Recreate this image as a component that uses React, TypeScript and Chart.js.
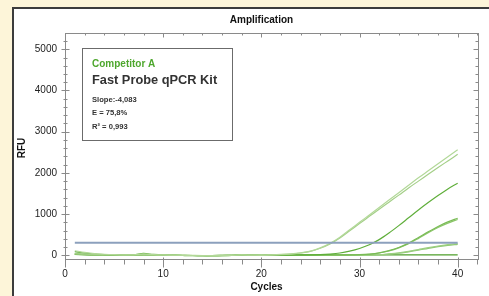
import React, { useEffect, useRef } from "react";
import { Chart, registerables } from "chart.js";

Chart.register(...registerables);

const cycles = [1, 2, 3, 4, 5, 6, 7, 8, 9, 10, 11, 12, 13, 14, 15, 16, 17, 18, 19, 20, 21, 22, 23, 24, 25, 26, 27, 28, 29, 30, 31, 32, 33, 34, 35, 36, 37, 38, 39, 40];
const yTickValues = [0, 1000, 2000, 3000, 4000, 5000];
const xTickValues = [0, 10, 20, 30, 40];
const thresholdCycles = [1, 40];
const thresholdValue = 305;

const wellA = [110, 70, 40, 25, 15, 10, 12, 35, 15, 8, 5, 0, -3, -5, -5, -3, 0, 8, 5, 3, 10, 20, 35, 60, 100, 180, 290, 440, 620, 800, 980, 1160, 1340, 1520, 1700, 1880, 2050, 2220, 2390, 2560];
const wellB = [40, 25, 15, 10, 8, 5, 8, 15, 8, 5, 0, -3, -5, -5, -8, -5, -3, 5, 3, 0, 5, 15, 30, 55, 95, 170, 275, 420, 595, 770, 945, 1120, 1290, 1460, 1635, 1800, 1965, 2130, 2290, 2450];
const wellC = [90, 55, 30, 18, 10, 5, 8, 45, 20, 5, 0, -5, -8, -8, -10, -8, -5, 0, 0, -3, 0, 3, 5, 8, 10, 15, 30, 55, 100, 165, 255, 380, 540, 720, 910, 1100, 1280, 1450, 1610, 1750];
const wellD = [30, 20, 12, 8, 5, 3, 5, 10, 5, 0, -3, -5, -5, -8, -8, -5, -3, 0, -3, -5, -3, 0, 3, 5, 8, 8, 10, 10, 10, 15, 30, 60, 115, 190, 295, 430, 570, 700, 810, 900];
const wellE = [35, 22, 15, 10, 5, 3, 5, 20, 8, 3, 0, -3, -5, -5, -8, -8, -5, -3, -3, -5, -3, -3, 0, 3, 5, 5, 8, 10, 12, 15, 25, 55, 105, 180, 280, 410, 550, 675, 780, 870];
const wellF = [25, 15, 10, 5, 3, 0, 3, 30, 10, 3, 0, -3, -5, -5, -5, -3, 0, 15, 5, 0, 0, 3, 3, 5, 5, 5, 5, 8, 8, 8, 10, 15, 35, 60, 95, 140, 185, 225, 258, 285];
const wellG = [20, 12, 8, 5, 3, 0, 3, 10, 5, 0, -3, -5, -5, -8, -5, -5, -3, 5, 3, 0, 0, 0, 3, 3, 5, 5, 5, 5, 5, 8, 8, 15, 30, 50, 85, 125, 170, 210, 240, 265];
const wellH = [30, 15, 8, 5, 3, 0, 3, 15, 5, 0, -3, -5, -5, -5, -5, -3, 0, 10, 3, 0, 3, 5, 8, 10, 10, 8, 8, 10, 10, 8, 8, 10, 10, 8, 8, 10, 10, 10, 8, 10];

const wells = [wellA, wellB, wellC, wellD, wellE, wellF, wellG, wellH];
const wellColors = ["#b2d898", "#a4cf88", "#5fae3a", "#79bb55", "#8cc66a", "#9ccf80", "#8ec873", "#4e9e2a"];

const legendTitle = "Competitor A";
const legendProduct = "Fast Probe qPCR Kit";
const legendStats = ["Slope:-4,083", "E = 75,8%", "R² = 0,993"];

const FONT = "'Liberation Sans', Arial, sans-serif";

const decorPlugin = {
  id: "decor",
  beforeDatasetsDraw(chart: any) {
    const { ctx, chartArea: a, scales } = chart;
    const x = scales.x;
    const y = scales.y;
    ctx.save();
    ctx.strokeStyle = "#8a8a8a";
    ctx.lineWidth = 1;
    const L = Math.round(a.left) + 0.5;
    const R = Math.round(a.right) + 0.5;
    const T = Math.round(a.top) + 0.5;
    const B = Math.round(a.bottom) + 0.5;
    ctx.strokeRect(L, T, R - L, B - T);
    const line = (x1: number, y1: number, x2: number, y2: number) => {
      ctx.beginPath();
      ctx.moveTo(x1, y1);
      ctx.lineTo(x2, y2);
      ctx.stroke();
    };
    for (let v = 0; v <= 5200; v += 200) {
      const py = Math.round(y.getPixelForValue(v)) + 0.5;
      const major = v % 1000 === 0;
      line(L - (major ? 4 : 2), py, L + (major ? 4 : 2), py);
      line(R - (major ? 5 : 3), py, R, py);
    }
    for (let c = 0; c <= 42; c += 2) {
      const px = Math.round(x.getPixelForValue(c)) + 0.5;
      const major = c % 10 === 0;
      line(px, B - (major ? 2 : 0), px, B + (major ? 8 : 5));
      line(px, T, px, T + (major ? 4 : 2));
    }
    ctx.restore();
  },
  afterDraw(chart: any) {
    const { ctx } = chart;
    ctx.save();
    ctx.fillStyle = "#111";
    ctx.font = `bold 10px ${FONT}`;
    ctx.textAlign = "center";
    ctx.textBaseline = "middle";
    ctx.fillText("Amplification", 261.5, 20);
    ctx.fillText("Cycles", 266.5, 287);
    ctx.save();
    ctx.translate(22, 148);
    ctx.rotate(-Math.PI / 2);
    ctx.fillText("RFU", 0, 0);
    ctx.restore();

    // legend box
    ctx.fillStyle = "#ffffff";
    ctx.fillRect(82.5, 48.5, 150, 92);
    ctx.strokeStyle = "#6b6b6b";
    ctx.lineWidth = 1;
    ctx.strokeRect(82.5, 48.5, 150, 92);
    ctx.textAlign = "left";
    ctx.fillStyle = "#4ea72e";
    ctx.font = `bold 10px ${FONT}`;
    ctx.fillText(legendTitle, 92, 64);
    ctx.fillStyle = "#333333";
    ctx.font = `bold 12.8px ${FONT}`;
    ctx.fillText(legendProduct, 92, 80);
    ctx.font = `bold 7.6px ${FONT}`;
    ctx.fillStyle = "#333333";
    legendStats.forEach((s, i) => ctx.fillText(s, 92, 100 + i * 13.3));
    ctx.restore();
  },
};

export default function App() {
  const ref = useRef<HTMLCanvasElement>(null);
  useEffect(() => {
    document.body.style.margin = "0";
    const datasets: any[] = wells.map((w, i) => ({
      data: cycles.map((c, j) => ({ x: c, y: w[j] })),
      borderColor: wellColors[i],
      borderWidth: 1.2,
      pointRadius: 0,
      cubicInterpolationMode: "monotone",
      fill: false,
    }));
    datasets.unshift({
      data: thresholdCycles.map((c) => ({ x: c, y: thresholdValue })),
      borderColor: "#8ca0bd",
      borderWidth: 2,
      pointRadius: 0,
      fill: false,
    });
    const chart = new Chart(ref.current!, {
      type: "line",
      data: { datasets },
      plugins: [decorPlugin],
      options: {
        animation: false,
        responsive: false,
        devicePixelRatio: 1,
        layout: { padding: { left: 0, top: 33, right: 11, bottom: 0 } },
        plugins: { legend: { display: false }, tooltip: { enabled: false }, title: { display: false } },
        scales: {
          x: {
            type: "linear",
            min: 0,
            max: 42.07,
            afterBuildTicks: (s: any) => {
              s.ticks = xTickValues.map((v) => ({ value: v }));
            },
            afterFit: (s: any) => {
              s.height = 37;
            },
            grid: { display: false, drawTicks: false, tickLength: 0 },
            border: { display: false },
            ticks: { padding: 9, color: "#222", font: { size: 10, family: FONT }, maxRotation: 0, autoSkip: false, callback: (v: any) => String(v) },
          },
          y: {
            type: "linear",
            min: -90,
            max: 5395,
            afterBuildTicks: (s: any) => {
              s.ticks = yTickValues.map((v) => ({ value: v }));
            },
            afterFit: (s: any) => {
              s.width = 65;
            },
            grid: { display: false, drawTicks: false, tickLength: 0 },
            border: { display: false },
            ticks: { padding: 8, color: "#222", font: { size: 10, family: FONT }, callback: (v: any) => String(v) },
          },
        },
      },
    });
    return () => chart.destroy();
  }, []);
  return (
    <div style={{ position: "fixed", left: 0, top: 0, width: 489, height: 296, background: "#fdf5d9", overflow: "hidden" }}>
      <div
        style={{
          position: "absolute",
          left: 12,
          top: 7,
          right: -10,
          bottom: -10,
          background: "#ffffff",
          borderLeft: "2px solid #3c3c3c",
          borderTop: "2px solid #3c3c3c",
        }}
      />
      <canvas ref={ref} width={489} height={296} style={{ position: "absolute", left: 0, top: 0 }} />
    </div>
  );
}
